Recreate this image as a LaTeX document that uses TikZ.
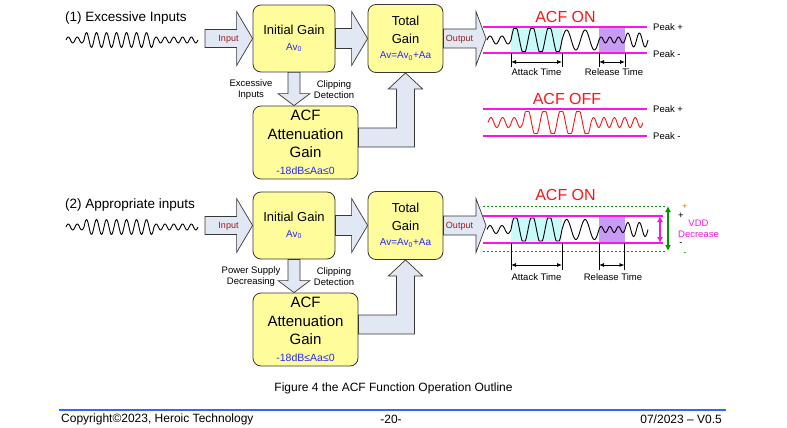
\documentclass[tikz,border=0pt]{standalone}
\usepackage{fontspec}
\setmainfont{Liberation Sans}
\usepackage{xcolor}
\usetikzlibrary{arrows.meta,calc,positioning}

\definecolor{boxfill}{RGB}{255,252,156}
\definecolor{arrowfill}{RGB}{225,231,243}
\definecolor{edge}{RGB}{55,55,55}
\definecolor{lblred}{RGB}{150,30,30}
\definecolor{avblue}{RGB}{40,40,255}
\definecolor{acfred}{RGB}{255,20,20}
\definecolor{peakmag}{RGB}{250,20,230}
\definecolor{cyanfill}{RGB}{200,250,250}
\definecolor{purplefill}{RGB}{200,155,245}
\definecolor{vddgreen}{RGB}{0,150,0}
\definecolor{plusorange}{RGB}{210,140,0}
\definecolor{footblue}{RGB}{51,102,255}

\begin{document}
\begin{tikzpicture}[x=1pt,y=-1pt,
    gain/.style={draw=edge, line width=0.8pt, fill=boxfill, rounded corners=8pt, align=center, inner sep=0pt},
    blk/.style={draw=edge, line width=0.7pt, fill=arrowfill},
    note/.style={font=\fontsize{9.5}{11}\selectfont, align=center, inner sep=0pt},
    sig/.style={text=lblred, font=\fontsize{9}{11}\selectfont, inner sep=0pt},
    pk/.style={anchor=west, font=\fontsize{9.5}{11}\selectfont, inner sep=0pt},
    acf/.style={text=acfred, font=\fontsize{16}{18}\selectfont, inner sep=0pt},
    wave/.style={line width=0.9pt, line join=round},
    peak/.style={draw=peakmag, line width=1.3pt},
    dim/.style={{Latex[length=5pt,width=4pt]}-{Latex[length=5pt,width=4pt]}, line width=0.8pt}]

\useasboundingbox (0,0) rectangle (787,428);

% both block diagrams
\foreach \dy/\s/\ttl/\why in {0/a/{(1) Excessive Inputs}/{Excessive\\Inputs}, 187/b/{(2) Appropriate inputs}/{Power Supply\\Decreasing}} {
    \node[anchor=west, font=\fontsize{13.5}{16}\selectfont, inner sep=0pt] (ttl\s) at (65,18+\dy) {\ttl};

    % input signal
    \foreach \xs/\nc/\pe/\am in {66/2/9/3, 84/7/10/7.5, 154/5/8.8/3}
        \draw[wave] plot[domain=0:\nc*\pe, samples=90] ({\xs+\x},{40+\dy-\am*sin(\x/\pe*360)});

    % gain blocks
    \node[gain, minimum width=82, minimum height=67, font=\fontsize{13}{16}\selectfont] (ini\s) at (294,38.5+\dy)
        {Initial Gain\\{\color{avblue}\fontsize{10}{12}\selectfont Av\textsubscript{0}}};
    \node[gain, minimum width=75, minimum height=68, font=\fontsize{13}{18}\selectfont] (tot\s) at (405.5,38.5+\dy)
        {Total\\Gain\\[-3pt]{\color{avblue}\fontsize{10}{12}\selectfont Av=Av\textsubscript{0}+Aa}};
    \node[gain, minimum width=105, minimum height=73, font=\fontsize{15}{18.5}\selectfont] (acf\s) at (305.5,142.5+\dy)
        {ACF\\Attenuation\\Gain\\[-1.5pt]{\color{avblue}\fontsize{10.5}{12}\selectfont -18dB≤Aa≤0}};

    \coordinate (in\s) at (205,38.5+\dy);
    \coordinate (out\s) at (486,38.5+\dy);
    \coordinate (dn\s) at (ini\s.south |- acf\s.north);
    \coordinate (up\s) at (tot\s.south |- acf\s.east);

    % block arrows
    \draw[blk] ($(in\s)+(0,-9)$) -- ($(ini\s.west)+(-16,-9)$) -- ($(ini\s.west)+(-16,-27)$) -- (ini\s.west)
        -- ($(ini\s.west)+(-16,27)$) -- ($(ini\s.west)+(-16,9)$) -- ($(in\s)+(0,9)$) -- cycle;
    \draw[blk] ($(ini\s.east)+(0,-10)$) -- ($(tot\s.west)+(-16,-10)$) -- ($(tot\s.west)+(-16,-27)$) -- (tot\s.west)
        -- ($(tot\s.west)+(-16,27)$) -- ($(tot\s.west)+(-16,10)$) -- ($(ini\s.east)+(0,10)$) -- cycle;
    \draw[blk] ($(tot\s.east)+(0,-9.5)$) -- ($(out\s)+(-10,-9.5)$) -- ($(out\s)+(-10,-27)$) -- (out\s)
        -- ($(out\s)+(-10,27)$) -- ($(out\s)+(-10,9.5)$) -- ($(tot\s.east)+(0,9.5)$) -- cycle;
    \draw[blk] ($(ini\s.south)+(-6,0)$) -- ($(dn\s)+(-6,-12)$) -- ($(dn\s)+(-16,-12)$) -- (dn\s)
        -- ($(dn\s)+(16,-12)$) -- ($(dn\s)+(6,-12)$) -- ($(ini\s.south)+(6,0)$) -- cycle;
    \draw[blk] ($(acf\s.east)+(0,-14.5)$) -- ($(up\s)+(-9,-14.5)$) -- ($(tot\s.south)+(-9,16)$) -- ($(tot\s.south)+(-17,16)$)
        -- (tot\s.south) -- ($(tot\s.south)+(17,16)$) -- ($(tot\s.south)+(9,16)$) -- ($(up\s)+(9,4.5)$)
        -- ($(acf\s.east)+(0,4.5)$) -- cycle;

    \node[sig] (inl\s) at (228.5,39.5+\dy) {Input};
    \node[sig] (outl\s) at (459.5,39.5+\dy) {Output};
    \node[note] (why\s) at (251,89.5+\dy) {\why};
    \node[note] (clip\s) at (334,89.5+\dy) {Clipping\\Detection};
}

% attack and release windows
\fill[cyanfill] (511,27) rectangle (562,53);
\fill[purplefill] (599,27) rectangle (625,53);
\fill[cyanfill] (511,216) rectangle (562,243);
\fill[purplefill] (599,216) rectangle (625,243);

% ACF ON (1)
\node[acf] (on1) at (565.5,17) {ACF ON};
\draw[peak] (483,27) -- (647,27);
\draw[peak] (483,53) -- (647,53);
\node[pk] (hi1) at (653,27) {Peak +};
\node[pk] (lo1) at (653,54) {Peak -};

% output signal, both cases
\foreach \yc in {40,229.5}
    \foreach \xs/\nc/\pe/\am/\cl in {487/2/12/4/99, 511/3/17/14/11.5, 562/2/18.5/10/99, 599/3/8.67/3/99, 625/2/11.5/7/99}
        \draw[wave] plot[domain=0:\nc*\pe, samples=90] ({\xs+\x},{\yc-max(-\cl,min(\cl,\am*sin(\x/\pe*360)))});

\foreach \tx/\nm in {511/aL,562/aR,599/rL,625/rR} {
    \coordinate (\nm1) at (\tx,62);
    \draw[line width=0.7pt] (\tx,53) -- (\tx,67);
}
\draw[dim] (aL1) -- (aR1);
\draw[dim] (rL1) -- (rR1);
\node[note] (att1) at (536.5,72) {Attack Time};
\node[note] (rel1) at (614,72) {Release Time};

% ACF OFF
\node[acf] (off) at (567,99) {ACF OFF};
\draw[peak] (483,109) -- (647,109);
\draw[peak] (483,136) -- (647,136);
\node[pk] (hi2) at (653,109) {Peak +};
\node[pk] (lo2) at (653,136) {Peak -};
\foreach \xs/\nc/\pe/\am/\cl in {488/3/11.67/5/99, 523/4/17/14/11, 591/5/10.4/5/99}
    \draw[wave, acfred] plot[domain=0:\nc*\pe, samples=90] ({\xs+\x},{122.5-max(-\cl,min(\cl,\am*sin(\x/\pe*360)))});

% ACF ON (2)
\node[acf] (on2) at (565.5,195) {ACF ON};
\draw[vddgreen, line width=1pt, dash pattern=on 2pt off 2pt] (483,206) -- (667,206);
\draw[vddgreen, line width=1pt, dash pattern=on 2pt off 2pt] (483,251) -- (667,251);
\draw[peak] (483,216) -- (663,216);
\draw[peak] (483,243) -- (663,243);

\coordinate (mTop) at (660,216);
\coordinate (mBot) at (660,243);
\coordinate (gTop) at (668,206);
\coordinate (gBot) at (668,251);
\draw[peakmag, line width=1.5pt, {Latex[length=6pt,width=6pt]}-{Latex[length=6pt,width=6pt]}] (mTop) -- (mBot);
\draw[vddgreen, line width=1.5pt, {Latex[length=6pt,width=6pt]}-{Latex[length=6pt,width=6pt]}] (gTop) -- (gBot);

\node[note, text=plusorange] (pA) at (685,207) {+};
\node[note] (pB) at (681,216) {+};
\node[note] (mA) at (681,244) {-};
\node[note, text=vddgreen] (mB) at (685,254) {-};
\node[note, text=peakmag] (vdd) at (698.5,228.5) {VDD\\Decrease};

\foreach \tx/\nm in {511/aL,562/aR,599/rL,624.5/rR} {
    \coordinate (\nm2) at (\tx,265);
    \draw[line width=0.7pt] (\tx,243) -- (\tx,270);
}
\draw[dim] (aL2) -- (aR2);
\draw[dim] (rL2) -- (rR2);
\node[note] (att2) at (536.5,277) {Attack Time};
\node[note] (rel2) at (613,277) {Release Time};

% caption and footer
\node[font=\fontsize{12}{14}\selectfont, inner sep=0pt] (cap) at (393.5,388) {Figure 4 the ACF Function Operation Outline};
\coordinate (rulL) at (59,410);
\coordinate (rulR) at (726,410);
\draw[footblue, line width=2pt] (rulL) -- (rulR);
\node[anchor=west, font=\fontsize{12}{14}\selectfont, inner sep=0pt] (copy) at (61,419.5) {Copyright©2023, Heroic Technology};
\node[font=\fontsize{12}{14}\selectfont, inner sep=0pt] (pg) at (391,419.5) {-20-};
\node[anchor=east, font=\fontsize{12}{14}\selectfont, inner sep=0pt] (ver) at (722,419.5) {07/2023 – V0.5};
\end{tikzpicture}
\end{document}
